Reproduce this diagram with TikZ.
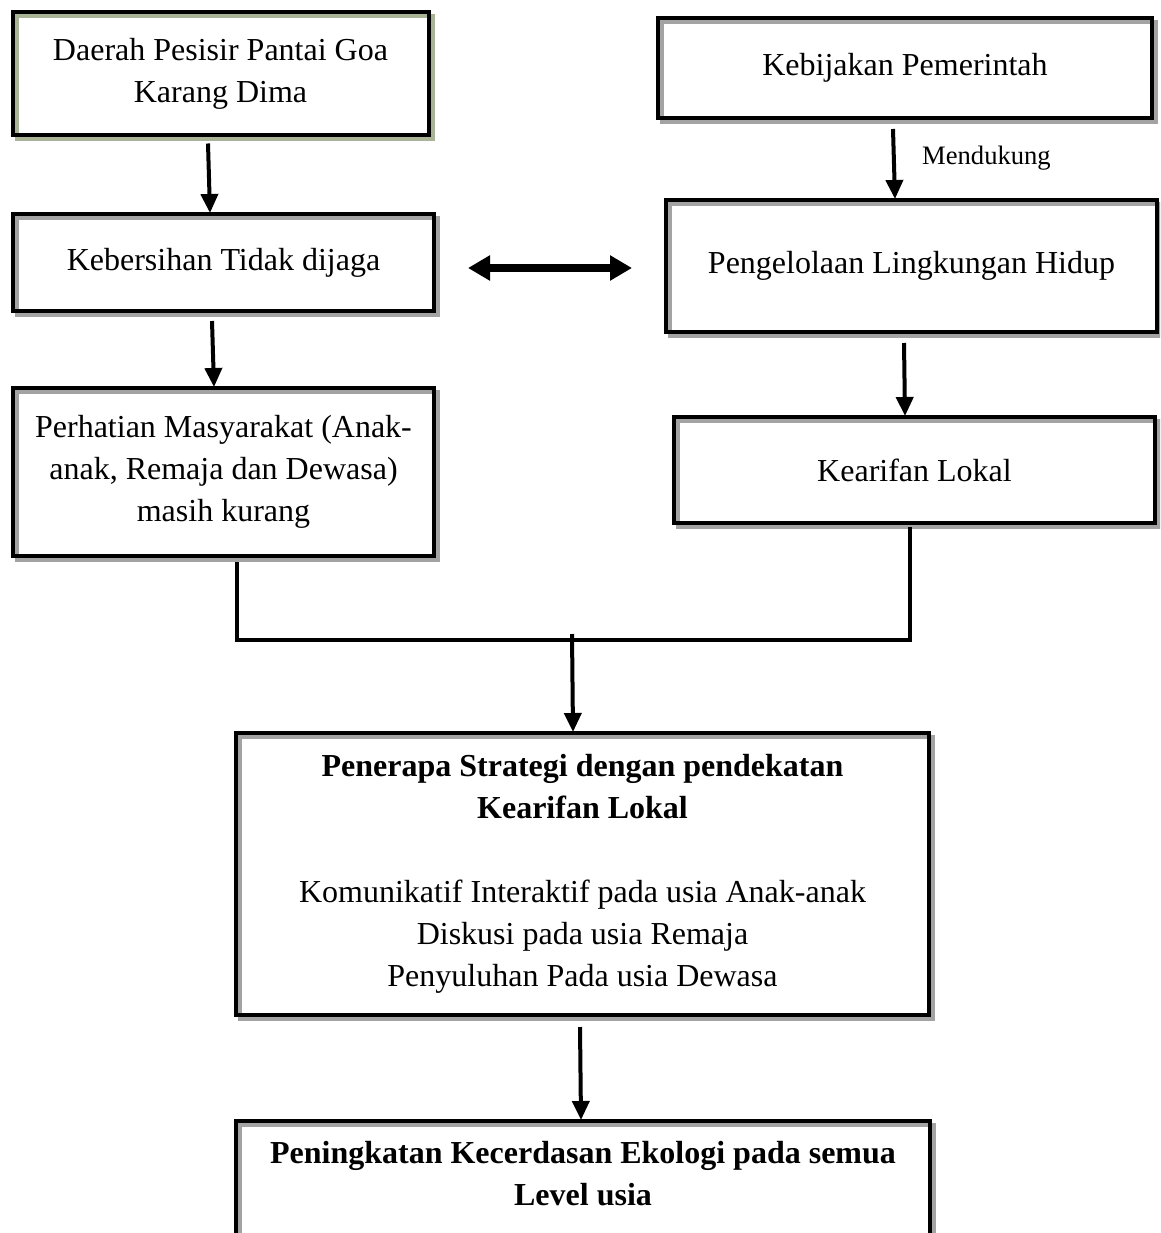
\documentclass[tikz,border=0pt]{standalone}
\usepackage{fontspec}
\setmainfont{Liberation Serif}
\usetikzlibrary{arrows.meta,calc,shadows}
\newcommand\mfs{\fontsize{32}{42}\selectfont}
\newcommand\smfs{\fontsize{26.6}{32}\selectfont}
\definecolor{shgray}{RGB}{163,163,163}
\definecolor{shgreen}{RGB}{169,180,150}
\tikzset{
  box/.style={draw=black, line width=4pt, rectangle, inner sep=0pt, align=center, font=\mfs,
    general shadow={draw=shgray, line width=4pt, shadow xshift=4pt, shadow yshift=-4pt}},
  greenbox/.style={draw=black, line width=4pt, rectangle, inner sep=0pt, align=center, font=\mfs,
    general shadow={draw=shgreen, line width=4pt, shadow xshift=4pt, shadow yshift=-4pt}},
  arr/.style={line width=4pt, -{Triangle[width=17pt,length=19pt]}},
  dblarr/.style={line width=8pt, {Triangle[width=24pt,length=22pt]}-{Triangle[width=24pt,length=22pt]}},
  ln/.style={line width=4pt},
  txt/.style={inner sep=0pt, align=center, font=\mfs}
}
\begin{document}
\begin{tikzpicture}[x=1pt,y=-1pt]
\useasboundingbox (0,0) rectangle (1160,1233);
\clip (0,0) rectangle (1160,1233);

\node[greenbox, minimum width=416pt, minimum height=123pt] (b1) at (220.5,74) {Daerah Pesisir Pantai Goa\\Karang Dima};
\node[box, minimum width=494pt, minimum height=100pt] (b2) at (905,68) {\raisebox{-3pt}{Kebijakan Pemerintah}};
\node[box, minimum width=421pt, minimum height=97pt] (b3) at (223.5,262.5) {Kebersihan Tidak dijaga};
\node[box, minimum width=491pt, minimum height=132pt] (b4) at (911.5,266) {Pengelolaan Lingkungan Hidup};
\node[box, minimum width=421pt, minimum height=168pt] (b5) at (223.5,472) {Perhatian Masyarakat (Anak-\\anak, Remaja dan Dewasa)\\masih kurang};
\node[box, minimum width=481pt, minimum height=106pt] (b6) at (914.5,470) {Kearifan Lokal};
\node[box, minimum width=693pt, minimum height=282pt] (b7) at (582.5,874) {\textbf{Penerapa Strategi dengan pendekatan}\\\textbf{Kearifan Lokal}\\[42pt]Komunikatif Interaktif pada usia Anak-anak\\Diskusi pada usia Remaja\\Penyuluhan Pada usia Dewasa};
\node[box, minimum width=694pt, minimum height=200pt] (b8) at (583,1221) {};
\node[txt, anchor=north] (b8t) at ($(b8.north)+(0,22)$) {\textbf{Peningkatan Kecerdasan Ekologi pada semua}\\\textbf{Level usia}};

\node[inner sep=0pt, font=\smfs, anchor=base west] (lbl) at (922,165) {Mendukung};

\draw[arr] ($(b1.south)+(-12.5,6)$) -- ($(b3.north)+(-13.5,1)$);
\draw[arr] ($(b3.south)+(-11.5,8)$) -- ($(b5.north)+(-9.5,1)$);
\draw[arr] ($(b2.south)+(-12,9)$) -- ($(b4.north)+(-16.5,1)$);
\draw[arr] ($(b4.south)+(-7.5,9)$) -- ($(b6.north)+(-9.5,1)$);
\draw[dblarr] ($(b3.east)+(32,5.5)$) -- ($(b4.west)+(-32,2)$);

\coordinate (j) at (572,634);
\draw[ln] ($(b5.south)+(13.5,4)$) -- ++(0,78) -| ($(b6.south)+(-5,2)$);
\draw[arr] (j) -- ($(b7.north)+(-9.5,1)$);
\draw[arr] ($(b7.south)+(-2.5,10)$) -- ($(b8.north)+(-2,1)$);
\end{tikzpicture}
\end{document}
